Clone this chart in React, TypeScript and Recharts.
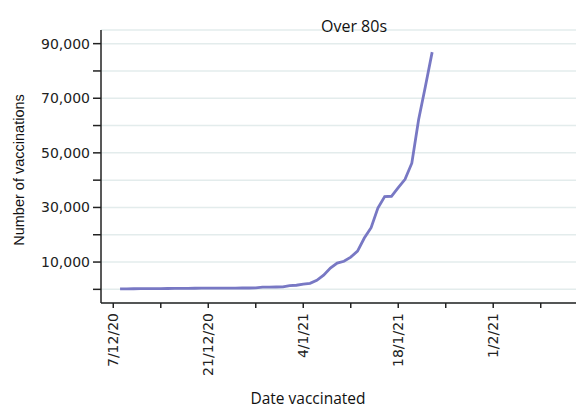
import React from "react";
import { LineChart, Line, XAxis, YAxis, CartesianGrid } from "recharts";

// Day offsets counted from 7/12/20 (day 0)
const dayOffsets = [
  1, 2, 3, 4, 5, 6, 7, 8, 9, 10, 11, 12, 13, 14, 15, 16, 17, 18, 19, 20,
  21, 22, 23, 24, 25, 26, 27, 28, 29, 30, 31, 32, 33, 34, 35, 36, 37, 38, 39, 40,
  41, 42, 43, 44, 45, 46, 47,
];

// Cumulative number of vaccinations (Over 80s)
const vaccinations = [
  150, 200, 220, 240, 260, 280, 300, 320, 340, 360, 380, 400, 420, 440, 450, 460, 470, 480, 490, 500,
  520, 800, 830, 860, 900, 1400, 1500, 1900, 2200, 3300, 5200, 7800, 9600, 10300, 11800, 14000, 18800, 22600, 29800, 34000,
  34100, 37300, 40300, 46200, 62100, 74300, 86900,
];

const xTickDays = [0, 7, 14, 21, 28, 35, 42, 49, 56, 63];
const xTickLabels = ["7/12/20", "", "21/12/20", "", "4/1/21", "", "18/1/21", "", "1/2/21", ""];

const yTicks = [0, 10000, 20000, 30000, 40000, 50000, 60000, 70000, 80000, 90000];
const yTickLabels = ["", "10,000", "", "30,000", "", "50,000", "", "70,000", "", "90,000"];

const title = "Over 80s";
const xTitle = "Date vaccinated";
const yTitle = "Number of vaccinations";

const data = dayOffsets.map((d, i) => ({ day: d, value: vaccinations[i] }));

const TICK_FONT = "'DejaVu Sans', sans-serif";

const XTick = (props: any) => {
  const { x, payload } = props;
  const idx = xTickDays.indexOf(payload.value);
  const label = idx >= 0 ? xTickLabels[idx] : "";
  if (!label) return null;
  return (
    <text
      x={x}
      y={313}
      transform={`rotate(-90, ${x}, 313)`}
      textAnchor="end"
      dy="0.36em"
      fontFamily={TICK_FONT}
      fontSize={14}
      fill="#222"
    >
      {label}
    </text>
  );
};

const YTick = (props: any) => {
  const { y, payload } = props;
  const idx = yTicks.indexOf(payload.value);
  const label = idx >= 0 ? yTickLabels[idx] : "";
  if (!label) return null;
  return (
    <text x={90} y={y} dy="0.36em" textAnchor="end" fontFamily={TICK_FONT} fontSize={14} fill="#222">
      {label}
    </text>
  );
};

export default function App() {
  return (
    <div style={{ position: "absolute", left: 0, top: 0, width: 576, height: 410, background: "#fff" }}>
      <LineChart width={576} height={410} data={data} margin={{ top: 30, right: 0, bottom: 0, left: 0 }}>
        <CartesianGrid horizontal={true} vertical={false} stroke="#e3ecec" strokeWidth={1.5} />
        <XAxis
          dataKey="day"
          type="number"
          domain={[-1.81, 68.2]}
          ticks={xTickDays}
          allowDataOverflow
          height={107}
          tickSize={5}
          tick={<XTick />}
          axisLine={{ stroke: "#222", strokeWidth: 1.5 }}
          tickLine={{ stroke: "#222", strokeWidth: 1.5 }}
          interval={0}
        />
        <YAxis
          type="number"
          domain={[-5000, 95000]}
          ticks={yTicks}
          allowDataOverflow
          width={101}
          tickSize={8}
          tick={<YTick />}
          axisLine={{ stroke: "#222", strokeWidth: 1.5 }}
          tickLine={{ stroke: "#222", strokeWidth: 1.5 }}
          interval={0}
        />
        <Line
          type="linear"
          dataKey="value"
          stroke="#7878c4"
          strokeWidth={2.8}
          dot={false}
          isAnimationActive={false}
        />
      </LineChart>
      <svg
        width={576}
        height={410}
        style={{ position: "absolute", left: 0, top: 0, pointerEvents: "none" }}
      >
        <text x={354} y={32} textAnchor="middle" fontFamily="'Open Sans', sans-serif" fontSize={16} fill="#111">
          {title}
        </text>
        <text x={308} y={404} textAnchor="middle" fontFamily="'Open Sans', sans-serif" fontSize={15.5} fill="#111">
          {xTitle}
        </text>
        <text
          x={24}
          y={170}
          transform="rotate(-90, 24, 170)"
          textAnchor="middle"
          fontFamily="'Liberation Sans', Arial, sans-serif"
          fontSize={14.5}
          fill="#111"
        >
          {yTitle}
        </text>
      </svg>
    </div>
  );
}
